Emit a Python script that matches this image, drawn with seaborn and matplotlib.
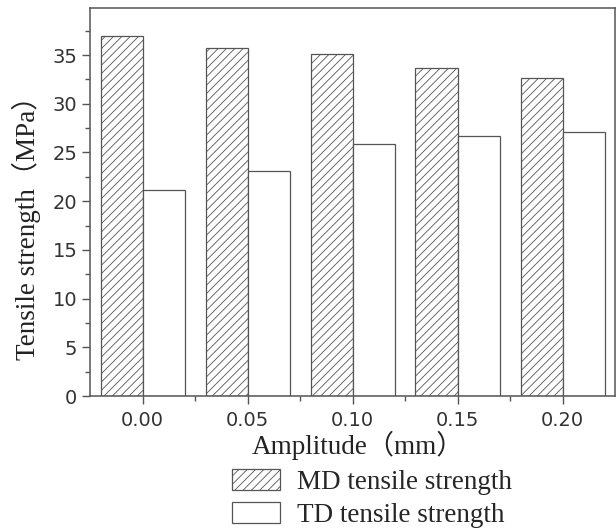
import matplotlib
matplotlib.use("Agg")
import matplotlib.pyplot as plt
from matplotlib.ticker import MultipleLocator
import seaborn as sns
import pandas as pd

amplitude = [0.00, 0.05, 0.10, 0.15, 0.20]
md_strength = [36.95, 35.75, 35.1, 33.65, 32.6]
td_strength = [21.1, 23.1, 25.9, 26.7, 27.15]
series_names = ["MD tensile strength", "TD tensile strength"]
x_tick_labels = ["0.00", "0.05", "0.10", "0.15", "0.20"]

df = pd.DataFrame({
    "Amplitude": amplitude * 2,
    "Strength": md_strength + td_strength,
    "Series": [series_names[0]] * len(amplitude) + [series_names[1]] * len(amplitude),
})

sns.set_style("ticks")
plt.rcParams["font.family"] = ["DejaVu Sans"]
plt.rcParams["hatch.color"] = "#777777"
plt.rcParams["hatch.linewidth"] = 0.6

gray = "#555555"
serif = ["Liberation Serif", "Noto Sans CJK SC"]

fig = plt.figure(figsize=(6.16, 5.29), dpi=100)
ax = fig.add_axes([90 / 616, 1 - 396 / 529, (615 - 90) / 616, (396 - 8) / 529])

sns.barplot(data=df, x="Amplitude", y="Strength", hue="Series", native_scale=True,
            palette=["white", "white"], edgecolor=gray, linewidth=0.9,
            width=0.8, ax=ax, legend=False, errorbar=None)

for patch in ax.containers[0]:
    patch.set_hatch("////")
    patch.set_edgecolor(gray)
for patch in ax.containers[1]:
    patch.set_edgecolor(gray)

ax.set_xlim(-0.025, 0.225)
ax.set_ylim(0, 39.83)
ax.set_xticks(amplitude)
ax.set_xticklabels(x_tick_labels)
ax.set_xticks([a + 0.025 for a in amplitude[:-1]], minor=True)
ax.yaxis.set_major_locator(MultipleLocator(5))
ax.yaxis.set_minor_locator(MultipleLocator(2.5))

for s in ax.spines.values():
    s.set_visible(True)
    s.set_color(gray)
    s.set_linewidth(1.1)

ax.tick_params(axis="both", which="major", direction="out", length=6, width=1.0,
               color=gray, labelsize=14, labelcolor="#333333")
ax.tick_params(axis="both", which="minor", direction="out", length=3.5, width=1.0, color=gray)
ax.tick_params(axis="x", which="major", pad=5)
ax.tick_params(axis="y", which="major", pad=3)

ax.set_xlabel("Amplitude（mm）", family=serif, fontsize=19.5, color="#222222")
ax.set_ylabel("Tensile strength（MPa）", family=serif, fontsize=19.5, color="#222222")
ax.xaxis.set_label_coords(0.51, -0.09)
ax.xaxis.label.set_verticalalignment("top")
ax.yaxis.set_label_coords(-0.122, 0.45)
ax.yaxis.label.set_verticalalignment("center")

handles = [ax.containers[0][0], ax.containers[1][0]]
fig.legend(handles, series_names, loc="upper left",
           bbox_to_anchor=(232 / 616, 1 - 469 / 529), frameon=False,
           borderaxespad=0, borderpad=0, handlelength=1.78, handleheight=0.8,
           handletextpad=0.62, labelspacing=0.28,
           prop={"family": serif, "size": 19.5})

fig.savefig("out.png", dpi=100)
